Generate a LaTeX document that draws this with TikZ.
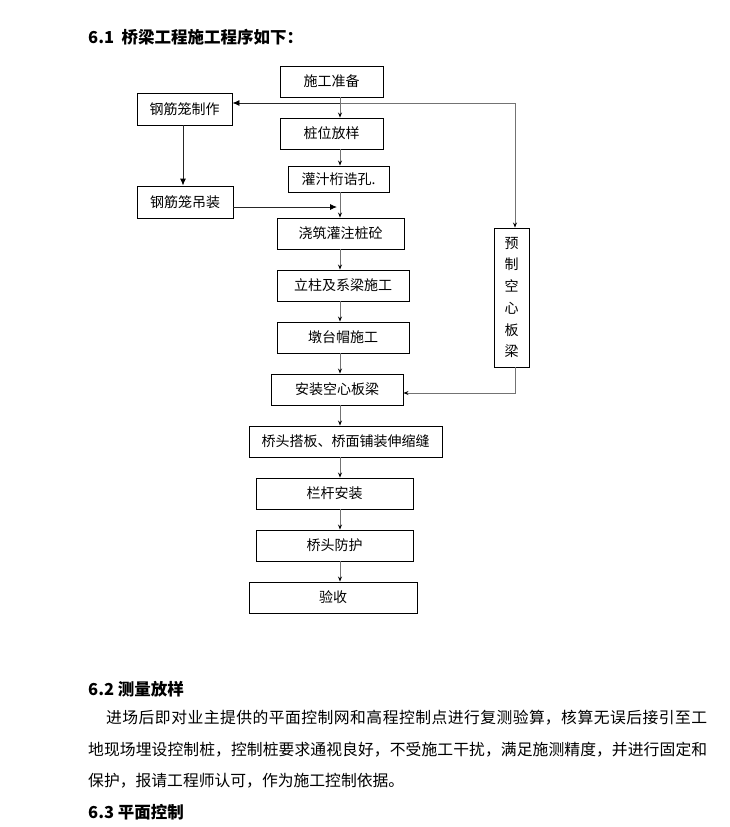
\documentclass[tikz,border=0pt]{standalone}
\usepackage{fontspec}
\setmainfont{Noto Sans CJK SC}
\usetikzlibrary{arrows.meta}

\newcommand\jline[2]{\parbox{#1}{\XeTeXlinebreaklocale "zh"\XeTeXlinebreakskip=0pt plus 4pt\parfillskip=0pt\relax #2}}

\tikzset{
  stepbox/.style={draw=black, line width=0.9pt, minimum height=31pt, inner sep=0pt, font=\fontsize{14}{16}\selectfont},
  flow/.style={draw=black!55, line width=0.9pt, -{Stealth[black, length=5pt, width=4pt]}},
  sideflow/.style={draw=black!85, line width=0.9pt, -{Latex[black, length=7pt, width=6pt]}},
  heading/.style={anchor=west, inner sep=0pt, font=\fontsize{16.5}{19}\selectfont\bfseries},
  bodyline/.style={anchor=west, inner sep=0pt, font=\fontsize{15.8}{18}\selectfont}
}

\begin{document}
\begin{tikzpicture}[x=1pt, y=-1pt]
  \useasboundingbox (0,0) rectangle (730,827);

  \node[heading] (h61) at (88,37) {6.1\ \ 桥梁工程施工程序如下：};

  % main column
  \node[stepbox, minimum width=103pt] (prep) at (331.5,81.5) {施工准备};
  \node[stepbox, minimum width=103pt] (stake) at (331.5,133.5) {桩位放样};
  \node[stepbox, minimum width=101pt, minimum height=26pt] (bore) at (338.5,179) {灌汁桁诰孔.};
  \node[stepbox, minimum width=127pt] (pour) at (340.5,233.5) {浇筑灌注桩砼};
  \node[stepbox, minimum width=132pt] (pier) at (343,285.5) {立柱及系梁施工};
  \node[stepbox, minimum width=132pt] (cap) at (343,337.5) {墩台帽施工};
  \node[stepbox, minimum width=132pt] (girder) at (337,389.5) {安装空心板梁};
  \node[stepbox, minimum width=193pt] (deck) at (345.5,441.5) {桥头搭板、桥面铺装伸缩缝};
  \node[stepbox, minimum width=157pt] (rail) at (334.5,493.5) {栏杆安装};
  \node[stepbox, minimum width=157pt] (guard) at (334.5,545.5) {桥头防护};
  \node[stepbox, minimum width=168pt] (accept) at (333,597.5) {验收};

  % side branches
  \node[stepbox, minimum width=95pt, minimum height=32pt] (cage) at (184.5,109) {钢筋笼制作};
  \node[stepbox, minimum width=96pt, minimum height=32pt] (lift) at (185,202) {钢筋笼吊装};
  \node[stepbox, minimum width=35pt, minimum height=139pt, align=center,
        font=\fontsize{14}{21.7}\selectfont] (precast) at (511.5,297.5) {预\\制\\空\\心\\板\\梁};

  \coordinate (spine) at (340,0);
  \coordinate (rside) at (515,0);
  \coordinate (tee) at (340,103);
  \coordinate (join) at (337,207);
  \coordinate (lower) at (515,393);

  \draw[flow] (prep.south -| spine) -- (stake.north -| spine);
  \draw[flow] (tee) -| (precast.north -| rside);
  \draw[sideflow] (tee) -- (cage.east |- tee);
  \draw[sideflow] (cage.south -| 183,0) -- (lift.north -| 183,0);
  \draw[flow] (stake.south -| spine) -- (bore.north -| spine);
  \draw[flow] (bore.south -| spine) -- (pour.north -| spine);
  \draw[sideflow] (lift.east |- join) -- (join);
  \foreach \a/\b in {pour/pier, pier/cap, cap/girder, girder/deck, deck/rail, rail/guard, guard/accept}
    \draw[flow] (\a.south -| spine) -- (\b.north -| spine);
  \draw[flow] (precast.south -| rside) |- (girder.east |- lower);

  % text below
  \node[heading] (h62) at (88,689) {6.2 测量放样};
  \node[bodyline] (p1) at (106,718) {\jline{601pt}{进场后即对业主提供的平面控制网和高程控制点进行复测验算，核算无误后接引至工}};
  \node[bodyline] (p2) at (88,750) {\jline{619pt}{地现场埋设控制桩，控制桩要求通视良好，不受施工干扰，满足施测精度，并进行固定和}};
  \node[bodyline] (p3) at (88,781) {保护，报请工程师认可，作为施工控制依据。};
  \node[heading] (h63) at (88,812) {6.3 平面控制};
\end{tikzpicture}
\end{document}
